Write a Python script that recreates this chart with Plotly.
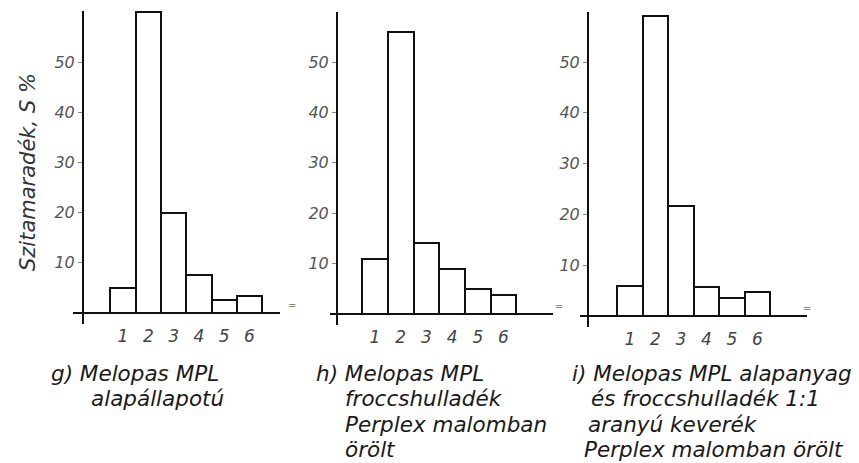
import plotly.graph_objects as go

# Sieve residue data for three grinding conditions
categories = [1, 2, 3, 4, 5, 6]
g_values = [5, 60, 20, 7.5, 2.5, 3.3]
h_values = [11, 56, 14, 9, 5, 3.8]
i_values = [6, 59, 21.7, 5.7, 3.6, 4.7]
y_ticks = [10, 20, 30, 40, 50]
y_title = "Szitamaradék, S %"

g_caption = ["g) Melopas MPL", "alapállapotú"]
h_caption = ["h) Melopas MPL", "froccshulladék", "Perplex malomban", "örölt"]
i_caption = ["i) Melopas MPL alapanyag", "és froccshulladék 1:1",
             "aranyú keverék", "Perplex malomban örölt"]

W, H = 859, 463
FONT = "DejaVu Sans"


def fx(p):
    return p / W


def fy(p):
    return 1 - p / H


# pixel layout of each panel
panels = [
    dict(vals=g_values, xl=73, xr=280, ax=83, c1=123, unit=25.3,
         base=313, top=11, bot=324, per10=50.2,
         cap=g_caption, cap_x=[49, 89]),
    dict(vals=h_values, xl=330, xr=553, ax=337, c1=375, unit=25.7,
         base=314, top=12, bot=325, per10=50.4,
         cap=h_caption, cap_x=[314, 343, 343, 343]),
    dict(vals=i_values, xl=580, xr=807, ax=588, c1=630, unit=25.5,
         base=316, top=12, bot=327, per10=50.8,
         cap=i_caption, cap_x=[570, 589, 586, 582]),
]

CAP_Y0 = 373
LINE_STEP = 25.5

fig = go.Figure()
annotations = []

for k, p in enumerate(panels):
    n = "" if k == 0 else str(k + 1)
    xa, ya = "x" + n, "y" + n
    fig.add_trace(go.Bar(
        x=categories, y=p["vals"], width=1, xaxis=xa, yaxis=ya,
        marker=dict(color="white", line=dict(color="#111", width=2)),
        cliponaxis=False, showlegend=False, hoverinfo="x+y",
    ))
    x_lo = 1 - (p["c1"] - p["xl"]) / p["unit"]
    x_hi = 1 + (p["xr"] - p["c1"]) / p["unit"]
    ppu = p["per10"] / 10
    y_hi = (p["base"] - p["top"]) / ppu
    y_lo = -(p["bot"] - p["base"]) / ppu

    fig.layout["xaxis" + n] = dict(
        domain=[fx(p["xl"]), fx(p["xr"])], range=[x_lo, x_hi], anchor=ya,
        showline=False, showgrid=False, zeroline=False, ticks="",
        tickvals=categories, ticktext=[str(c) for c in categories],
        tickfont=dict(family=FONT, size=17, color="#444", style="italic"),
        fixedrange=True,
    )
    fig.layout["yaxis" + n] = dict(
        domain=[fy(p["bot"]), fy(p["top"])], range=[y_lo, y_hi],
        anchor="free", position=fx(p["ax"]),
        showline=True, linecolor="#111", linewidth=2,
        showgrid=False, zeroline=True, zerolinecolor="#111", zerolinewidth=2,
        tickvals=y_ticks, ticks="outside", ticklen=4, tickcolor="#888",
        tickfont=dict(family=FONT, size=16, color="#555", style="italic"),
        fixedrange=True,
    )
    # small end mark at the right end of the baseline
    annotations.append(dict(
        x=fx(p["xr"] + 6), y=fy(p["base"]), xref="paper", yref="paper",
        text="=", showarrow=False, font=dict(family=FONT, size=10, color="#888"),
    ))
    for j, line in enumerate(p["cap"]):
        annotations.append(dict(
            x=fx(p["cap_x"][j]), y=fy(CAP_Y0 + j * LINE_STEP),
            xref="paper", yref="paper", xanchor="left", yanchor="middle",
            text=line, showarrow=False,
            font=dict(family=FONT, size=21.5, color="#1a1a1a", style="italic"),
        ))

annotations.append(dict(
    x=fx(28), y=fy(172), xref="paper", yref="paper", textangle=-90,
    xanchor="center", yanchor="middle",
    text=y_title, showarrow=False,
    font=dict(family=FONT, size=21, color="#333", style="italic"),
))

fig.update_layout(
    width=W, height=H, margin=dict(l=0, r=0, t=0, b=0),
    paper_bgcolor="white", plot_bgcolor="white",
    annotations=annotations, bargap=0,
)

fig.write_html("out.html")
